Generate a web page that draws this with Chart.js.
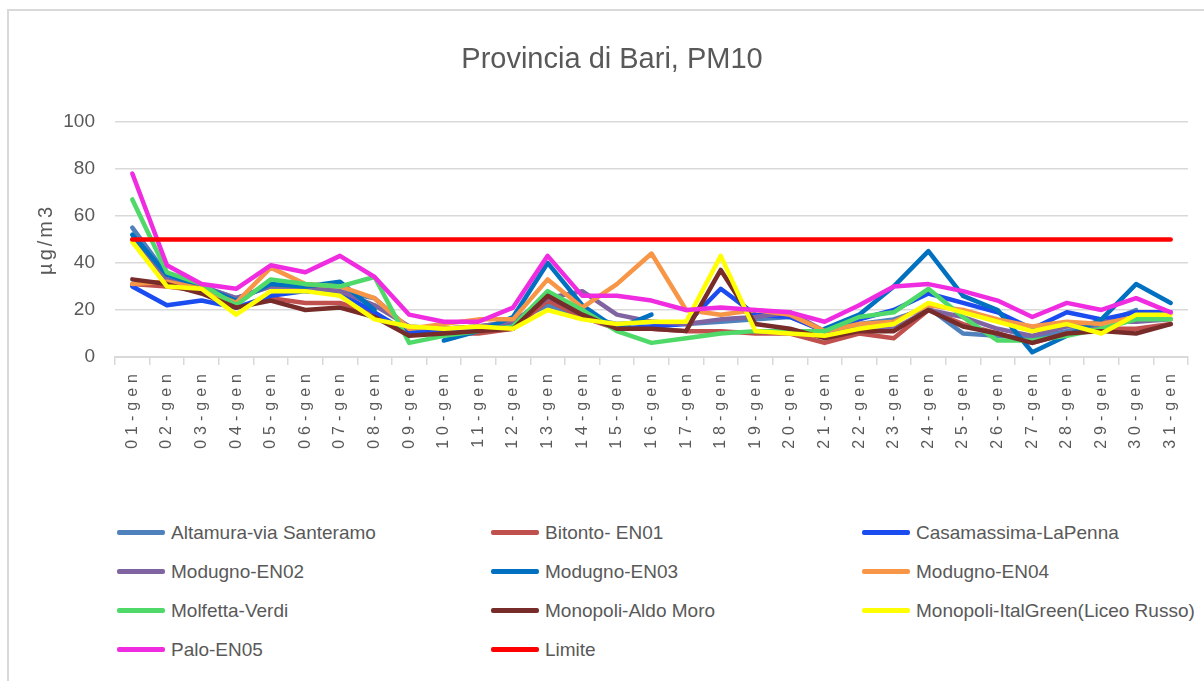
<!DOCTYPE html>
<html>
<head>
<meta charset="utf-8">
<title>Provincia di Bari, PM10</title>
<script src="https://cdn.jsdelivr.net/npm/chart.js@4.4.1/dist/chart.umd.min.js"></script>
<style>
    html, body { margin: 0; padding: 0; background: #fff; overflow: hidden; }
    #pagina { position: relative; width: 1204px; height: 681px; }
    #cornice { position: absolute; left: 7px; top: 9px; width: 1220px; height: 700px; border: 2px solid #d9d9d9; box-sizing: border-box; }
    #contenitore { position: absolute; left: 0; top: 0; width: 1204px; height: 460px; }
    #legenda { position: absolute; left: 117px; top: 513px; display: grid; grid-template-columns: 374px 371px 330px; grid-auto-rows: 39px;
               font-family: 'Liberation Sans', sans-serif; font-size: 19px; color: #595959; }
    .voce { display: flex; align-items: center; white-space: nowrap; }
    .tratto { width: 48px; height: 5px; border-radius: 2px; margin-right: 6px; flex: none; }
</style>
</head>
<body>
<div id="pagina">
    <div id="cornice"></div>
    <div id="contenitore"><canvas id="grafico"></canvas></div>
    <div id="legenda"></div>
</div>
<script>
var giorni = ['01-gen', '02-gen', '03-gen', '04-gen', '05-gen', '06-gen', '07-gen', '08-gen', '09-gen', '10-gen',
              '11-gen', '12-gen', '13-gen', '14-gen', '15-gen', '16-gen', '17-gen', '18-gen', '19-gen', '20-gen',
              '21-gen', '22-gen', '23-gen', '24-gen', '25-gen', '26-gen', '27-gen', '28-gen', '29-gen', '30-gen', '31-gen'];

var tickY = [0, 20, 40, 60, 80, 100];

// valori giornalieri PM10 (µg/m3) per stazione
var altamura    = [55, 35, 30, 25, 30, 30, 28, 25, 12, 12, 13, 15, 22, 17, 14, 15, 14, 15, 16, 17, 11, 14, 16, 21, 10, 9, 8, 11, 14, 20, null];
var bitonto     = [31, 30, 28, 21, 25, 23, 23, 18, 10, 10, 10, 12, 24, 17, 12, 12, 11, 11, 10, 10, 6, 10, 8, 20, 14, 10, 6, 10, 12, 12, 14];
var casamassima = [30, 22, 24, 21, 26, 28, 27, 19, 10, 11, 12, 14, 26, 18, 12, 13, 14, 29, 18, 17, 11, 16, 20, 27, 23, 19, 12, 19, 16, 19, 19];
var modugnoEN02 = [50, 33, 30, 25, 30, 30, 28, 22, 13, 12, 13, 15, 25, 28, 18, 15, 14, 16, 17, 19, 11, 12, 12, 20, 17, 12, 9, 13, 15, 15, 16];
var modugnoEN03 = [52, 35, 30, 24, 31, 30, 32, 20, null, 7, 11, 17, 40, 22, 12, 18, null, null, null, null, 12, 18, 30, 45, 26, 20, 2, 9, 16, 31, 23];
var modugnoEN04 = [31, 32, 29, 23, 38, 31, 30, 25, 12, 14, 16, 16, 33, 21, 31, 44, 20, 18, 20, 18, 11, 14, 15, 22, 20, 16, 13, 15, 14, 17, 16];
var molfetta    = [67, 36, 31, 22, 33, 31, 30, 34, 6, 9, 11, 13, 28, 20, 11, 6, 8, 10, 11, 11, 11, 17, 19, 29, 17, 7, 7, 9, 12, 16, 16];
var aldoMoro    = [33, 31, 27, 21, 24, 20, 21, 17, 9, 10, 11, 12, 26, 18, 12, 12, 11, 37, 14, 12, 8, 11, 11, 20, 13, 10, 6, 10, 11, 10, 14];
var italGreen   = [49, 30, 29, 18, 28, 28, 26, 16, 13, 12, 13, 12, 20, 16, 14, 15, 15, 43, 11, 10, 9, 12, 14, 23, 19, 15, 11, 14, 10, 18, 18];
var palo        = [78, 39, 31, 29, 39, 36, 43, 34, 18, 15, 15, 21, 43, 26, 26, 24, 20, 21, 20, 19, 15, 22, 30, 31, 28, 24, 17, 23, 20, 25, 19];
var limite      = [50, 50, 50, 50, 50, 50, 50, 50, 50, 50, 50, 50, 50, 50, 50, 50, 50, 50, 50, 50, 50, 50, 50, 50, 50, 50, 50, 50, 50, 50, 50];

var nomi = ['Altamura-via Santeramo', 'Bitonto- EN01', 'Casamassima-LaPenna', 'Modugno-EN02', 'Modugno-EN03', 'Modugno-EN04',
            'Molfetta-Verdi', 'Monopoli-Aldo Moro', 'Monopoli-ItalGreen(Liceo Russo)', 'Palo-EN05', 'Limite'];
var serie = [altamura, bitonto, casamassima, modugnoEN02, modugnoEN03, modugnoEN04, molfetta, aldoMoro, italGreen, palo, limite];
var colori = ['#4F81BD', '#C0504D', '#1A4CF0', '#8064A2', '#0070C0', '#F79646', '#4ED968', '#772C2A', '#FFFF00', '#F02CE0', '#FF0000'];

var grigio = '#595959';
var sans = "'Liberation Sans', sans-serif";

var datasets = [];
for (let i = 0; i < serie.length; i++) {
    datasets.push({
        label: nomi[i],
        data: serie[i],
        borderColor: colori[i],
        backgroundColor: colori[i],
        borderWidth: 4.5,
        borderJoinStyle: 'round',
        borderCapStyle: 'round',
        pointRadius: 0,
        tension: 0,
        // come in Excel: l'ultima serie sta sopra
        order: serie.length - i
    });
}

// spaziatura lettere per le etichette ruotate
function spaziato(scala, metodo, spazio) {
    var originale = scala[metodo];
    scala[metodo] = function () {
        this.ctx.save();
        this.ctx.letterSpacing = spazio;
        originale.apply(this, arguments);
        this.ctx.restore();
    };
}

var pluginSpazi = {
    id: 'spazi',
    beforeDraw: function (chart) {
        if (!chart.scales.x._spaziato) {
            spaziato(chart.scales.x, 'drawLabels', '5px');
            spaziato(chart.scales.y, 'drawTitle', '3px');
            chart.scales.x._spaziato = true;
        }
    }
};

var chart = new Chart(document.getElementById('grafico'), {
    type: 'line',
    data: { labels: giorni, datasets: datasets },
    plugins: [pluginSpazi],
    options: {
        responsive: true,
        maintainAspectRatio: false,
        animation: false,
        layout: { padding: { left: 36, right: 16, top: 0, bottom: 0 } },
        plugins: {
            legend: { display: false },
            tooltip: { enabled: false },
            title: {
                display: true,
                text: 'Provincia di Bari, PM10',
                color: grigio,
                font: { family: sans, size: 29, weight: 'normal', lineHeight: 1.2 },
                padding: { top: 43, bottom: 44 }
            }
        },
        scales: {
            x: {
                offset: true,
                grid: { display: true, offset: true, drawOnChartArea: false, drawTicks: true, tickLength: 8, color: '#D9D9D9', lineWidth: 1.5 },
                border: { display: true, color: '#D9D9D9', width: 2 },
                ticks: {
                    color: grigio,
                    font: { family: sans, size: 16 },
                    minRotation: 90,
                    maxRotation: 90,
                    autoSkip: false,
                    padding: 4
                },
                afterFit: function (s) { s.height = 103; }
            },
            y: {
                min: 0,
                max: 100,
                afterBuildTicks: function (s) { s.ticks = tickY.map(function (v) { return { value: v }; }); },
                grid: { color: '#D9D9D9', lineWidth: 1.5, drawTicks: false },
                border: { display: false },
                ticks: {
                    color: grigio,
                    font: { family: sans, size: 19 },
                    padding: 20
                },
                title: {
                    display: true,
                    text: 'µg/m3',
                    color: grigio,
                    font: { family: sans, size: 20, lineHeight: 1 },
                    padding: { top: 0, bottom: 0 }
                },
                afterFit: function (s) { s.width = 79; }
            }
        }
    }
});

// legenda su tre colonne come nell'originale
var legenda = document.getElementById('legenda');
chart.data.datasets.forEach(function (ds) {
    var voce = document.createElement('div');
    voce.className = 'voce';
    var tratto = document.createElement('span');
    tratto.className = 'tratto';
    tratto.style.background = ds.borderColor;
    var testo = document.createElement('span');
    testo.textContent = ds.label;
    voce.appendChild(tratto);
    voce.appendChild(testo);
    legenda.appendChild(voce);
});
</script>
</body>
</html>
